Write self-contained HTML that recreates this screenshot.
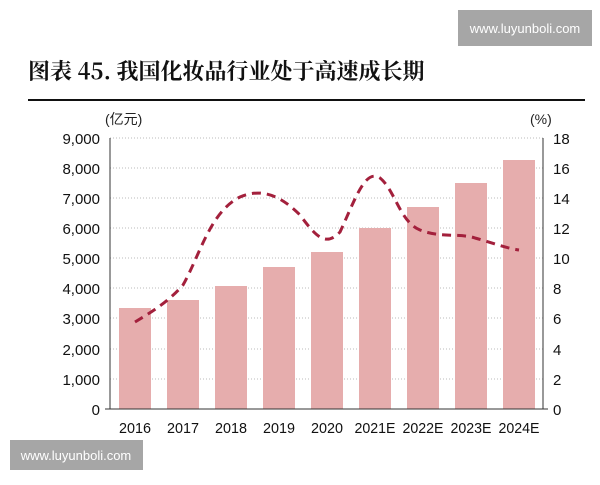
<!DOCTYPE html><html><head><meta charset="utf-8"><style>body{margin:0;background:#fff;width:600px;height:480px;overflow:hidden;font-family:"Liberation Sans","Noto Sans CJK SC",sans-serif}</style></head><body>
<svg width="600" height="480" xmlns="http://www.w3.org/2000/svg" font-family="Liberation Sans, Noto Sans CJK SC, sans-serif">
<rect x="458" y="10" width="134" height="36" fill="#a6a6a6"/>
<text x="525" y="33" font-size="13" fill="#fff" text-anchor="middle">www.luyunboli.com</text>
<text x="28" y="79" font-size="22" font-weight="bold" fill="#111" font-family="Noto Serif CJK SC, Noto Sans CJK SC, serif">图表 45. 我国化妆品行业处于高速成长期</text>
<rect x="28" y="99" width="557" height="2" fill="#111"/>
<text x="105" y="124" font-size="14" fill="#222">(亿元)</text>
<text x="530" y="124" font-size="14" fill="#222">(%)</text>
<g stroke="#bbb" stroke-dasharray="1,2">
<line x1="110" x2="543" y1="138" y2="138"/><line x1="110" x2="543" y1="168" y2="168"/><line x1="110" x2="543" y1="198" y2="198"/><line x1="110" x2="543" y1="228" y2="228"/><line x1="110" x2="543" y1="258" y2="258"/><line x1="110" x2="543" y1="288" y2="288"/><line x1="110" x2="543" y1="318" y2="318"/><line x1="110" x2="543" y1="349" y2="349"/><line x1="110" x2="543" y1="379" y2="379"/>
</g>
<g fill="#e6adad">
<rect x="119" y="308" width="32" height="101"/><rect x="167" y="300" width="32" height="109"/><rect x="215" y="286" width="32" height="123"/><rect x="263" y="267" width="32" height="142"/><rect x="311" y="252" width="32" height="157"/><rect x="359" y="228" width="32" height="181"/><rect x="407" y="207" width="32" height="202"/><rect x="455" y="183" width="32" height="226"/><rect x="503" y="160" width="32" height="249"/>
</g>
<g stroke="#333" stroke-width="1"><line x1="110" x2="110" y1="138" y2="409"/><line x1="543" x2="543" y1="138" y2="409"/><line x1="105" x2="548" y1="409" y2="409"/></g>
<g font-size="15" fill="#111" text-anchor="end" transform="scale(1,1)">
<text x="100" y="144">9,000</text><text x="100" y="174">8,000</text><text x="100" y="204">7,000</text><text x="100" y="234">6,000</text><text x="100" y="264">5,000</text><text x="100" y="294">4,000</text><text x="100" y="324">3,000</text><text x="100" y="355">2,000</text><text x="100" y="385">1,000</text><text x="100" y="415">0</text>
</g>
<g font-size="15" fill="#111" text-anchor="start">
<text x="553" y="144">18</text><text x="553" y="174">16</text><text x="553" y="204">14</text><text x="553" y="234">12</text><text x="553" y="264">10</text><text x="553" y="294">8</text><text x="553" y="324">6</text><text x="553" y="355">4</text><text x="553" y="385">2</text><text x="553" y="415">0</text>
</g>
<g font-size="15" fill="#111" text-anchor="middle">
<text x="135" y="433" textLength="32" lengthAdjust="spacingAndGlyphs">2016</text><text x="183" y="433" textLength="32" lengthAdjust="spacingAndGlyphs">2017</text><text x="231" y="433" textLength="32" lengthAdjust="spacingAndGlyphs">2018</text><text x="279" y="433" textLength="32" lengthAdjust="spacingAndGlyphs">2019</text><text x="327" y="433" textLength="32" lengthAdjust="spacingAndGlyphs">2020</text><text x="375" y="433" textLength="41" lengthAdjust="spacingAndGlyphs">2021E</text><text x="423" y="433" textLength="41" lengthAdjust="spacingAndGlyphs">2022E</text><text x="471" y="433" textLength="41" lengthAdjust="spacingAndGlyphs">2023E</text><text x="519" y="433" textLength="41" lengthAdjust="spacingAndGlyphs">2024E</text>
</g>
<path d="M135,322 C155,310 170,300 183,285 C200,255 210,212 240,197 C265,186 285,200 300,215 C315,235 325,248 340,232 C355,200 365,168 380,178 C395,190 400,222 420,230 C440,238 460,233 475,238 C490,242 505,248 519,250" fill="none" stroke="#a3203c" stroke-width="3" stroke-dasharray="9,6"/>
<rect x="10" y="440" width="133" height="30" fill="#a6a6a6"/>
<text x="76" y="460" font-size="13" fill="#fff" text-anchor="middle">www.luyunboli.com</text>
</svg></body></html>
